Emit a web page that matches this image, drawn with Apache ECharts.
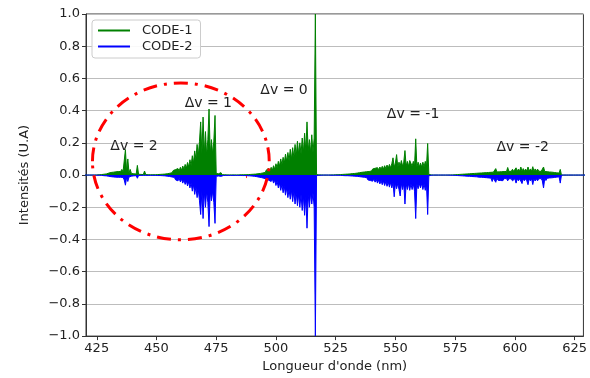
<!DOCTYPE html>
<html><head><meta charset="utf-8">
<script src="https://cdn.jsdelivr.net/npm/echarts@6/dist/echarts.min.js"></script>
<style>html,body{margin:0;padding:0;background:#fff}#c{width:590px;height:378px}</style>
</head><body><div id="c"></div>
<script>
// Spectrum sampled every 0.5 nm from 420.0 nm; each row = 5 nm (10 samples)
const gridStart = 420.0;
const gridStep = 0.5;

const code1 = [
/*420*/ 0,0,0,0,0,0,0,0,0,0.001,
/*425*/ 0.001,0.003,0.002,0.005,0.003,0.007,0.005,0.011,0.007,0.016,
/*430*/ 0.012,0.022,0.016,0.027,0.018,0.03,0.02,0.032,0.022,0.034,
/*435*/ 0.022,0.035,0.02,0.03,0.158,0.018,0.1,0.015,0.035,0.01,
/*440*/ 0.02,0.008,0.015,0.006,0.06,0.005,0.012,0.004,0.008,0.003,
/*445*/ 0.025,0.003,0.004,0.002,0.008,0.002,0.005,0.002,0.004,0.002,
/*450*/ 0.005,0.003,0.006,0.004,0.008,0.005,0.01,0.006,0.013,0.008,
/*455*/ 0.017,0.011,0.022,0.014,0.028,0.018,0.034,0.022,0.04,0.026,
/*460*/ 0.048,0.03,0.056,0.036,0.066,0.042,0.078,0.05,0.095,0.06,
/*465*/ 0.12,0.075,0.15,0.1,0.19,0.12,0.21,0.33,0.13,0.36,
/*470*/ 0.13,0.27,0.12,0.22,0.41,0.13,0.22,0.13,0.21,0.37,
/*475*/ 0.01,0.004,0.008,0.003,0.015,0.002,0.004,0.002,0.003,0.001,
/*480*/ 0.002,0.001,0.002,0.001,0.002,0.001,0.002,0.001,0.003,0.001,
/*485*/ 0.003,0.002,0.003,0.002,0.004,0.002,0.005,0.003,0.006,0.004,
/*490*/ 0.008,0.005,0.01,0.006,0.013,0.008,0.016,0.01,0.02,0.013,
/*495*/ 0.025,0.016,0.032,0.02,0.04,0.026,0.048,0.03,0.058,0.036,
/*500*/ 0.07,0.045,0.085,0.055,0.1,0.065,0.11,0.075,0.13,0.085,
/*505*/ 0.14,0.09,0.16,0.1,0.17,0.11,0.19,0.12,0.21,0.13,
/*510*/ 0.2,0.13,0.23,0.14,0.26,0.15,0.33,0.15,0.22,0.14,
/*515*/ 0.25,0.14,0.23,1.0,0.003,0.001,0.001,0,0.001,0,
/*520*/ 0,0.001,0,0.001,0,0.001,0.001,0.002,0.001,0.003,
/*525*/ 0.002,0.003,0.002,0.004,0.003,0.005,0.004,0.006,0.005,0.008,
/*530*/ 0.006,0.01,0.007,0.012,0.009,0.014,0.01,0.017,0.012,0.02,
/*535*/ 0.015,0.024,0.017,0.027,0.019,0.03,0.021,0.032,0.022,0.034,
/*540*/ 0.025,0.038,0.028,0.042,0.03,0.046,0.033,0.05,0.036,0.054,
/*545*/ 0.038,0.058,0.04,0.062,0.043,0.066,0.045,0.07,0.107,0.048,
/*550*/ 0.075,0.127,0.05,0.08,0.055,0.09,0.055,0.08,0.152,0.055,
/*555*/ 0.085,0.055,0.09,0.096,0.055,0.085,0.055,0.225,0.05,0.08,
/*560*/ 0.05,0.075,0.05,0.08,0.05,0.085,0.05,0.196,0.004,0.002,
/*565*/ 0.001,0.001,0,0.001,0,0.001,0,0.001,0,0.001,
/*570*/ 0,0.001,0,0.001,0,0.001,0.001,0.002,0.001,0.003,
/*575*/ 0.002,0.004,0.003,0.005,0.004,0.006,0.005,0.008,0.006,0.009,
/*580*/ 0.007,0.011,0.008,0.012,0.009,0.014,0.01,0.016,0.011,0.017,
/*585*/ 0.012,0.019,0.013,0.02,0.014,0.022,0.015,0.024,0.016,0.025,
/*590*/ 0.017,0.027,0.018,0.028,0.04,0.019,0.03,0.02,0.031,0.021,
/*595*/ 0.033,0.022,0.034,0.022,0.047,0.023,0.035,0.023,0.036,0.023,
/*600*/ 0.035,0.045,0.024,0.037,0.024,0.05,0.024,0.04,0.024,0.037,
/*605*/ 0.024,0.05,0.024,0.038,0.024,0.052,0.024,0.038,0.024,0.037,
/*610*/ 0.024,0.036,0.023,0.035,0.05,0.022,0.033,0.021,0.03,0.019,
/*615*/ 0.028,0.018,0.025,0.016,0.022,0.014,0.02,0.012,0.035,0.001,
/*620*/ 0,0,0,0,0,0,0,0,0,0,
/*625*/ 0,0,0,0,0,0,0,0,0,0
];

const code2 = [
/*420*/ 0,0,0,0,0,0,0,0,0,-0.001,
/*425*/ -0.001,-0.002,-0.001,-0.004,-0.002,-0.006,-0.004,-0.008,-0.005,-0.011,
/*430*/ -0.008,-0.015,-0.01,-0.018,-0.012,-0.02,-0.013,-0.022,-0.014,-0.022,
/*435*/ -0.014,-0.025,-0.015,-0.03,-0.063,-0.014,-0.04,-0.012,-0.018,-0.007,
/*440*/ -0.01,-0.005,-0.008,-0.004,-0.02,-0.003,-0.006,-0.002,-0.004,-0.002,
/*445*/ -0.008,-0.002,-0.003,-0.002,-0.005,-0.002,-0.003,-0.002,-0.003,-0.002,
/*450*/ -0.004,-0.003,-0.005,-0.003,-0.007,-0.004,-0.009,-0.005,-0.012,-0.007,
/*455*/ -0.015,-0.009,-0.019,-0.012,-0.024,-0.015,-0.03,-0.019,-0.036,-0.022,
/*460*/ -0.042,-0.026,-0.05,-0.03,-0.058,-0.036,-0.068,-0.042,-0.08,-0.05,
/*465*/ -0.1,-0.06,-0.12,-0.075,-0.14,-0.09,-0.16,-0.245,-0.1,-0.27,
/*470*/ -0.1,-0.2,-0.1,-0.17,-0.32,-0.1,-0.16,-0.1,-0.17,-0.3,
/*475*/ -0.008,-0.003,-0.006,-0.002,-0.008,-0.002,-0.003,-0.002,-0.002,-0.001,
/*480*/ -0.002,-0.001,-0.002,-0.001,-0.002,-0.001,-0.002,-0.001,-0.002,-0.001,
/*485*/ -0.002,-0.001,-0.003,-0.002,-0.003,-0.002,-0.004,-0.002,-0.005,-0.003,
/*490*/ -0.006,-0.004,-0.008,-0.005,-0.01,-0.006,-0.013,-0.008,-0.016,-0.01,
/*495*/ -0.02,-0.013,-0.026,-0.016,-0.032,-0.02,-0.04,-0.025,-0.05,-0.032,
/*500*/ -0.065,-0.04,-0.08,-0.05,-0.095,-0.06,-0.11,-0.07,-0.125,-0.08,
/*505*/ -0.14,-0.09,-0.15,-0.095,-0.165,-0.1,-0.18,-0.11,-0.19,-0.12,
/*510*/ -0.2,-0.12,-0.22,-0.13,-0.25,-0.13,-0.33,-0.12,-0.2,-0.11,
/*515*/ -0.18,-0.11,-0.2,-1.0,-0.003,-0.001,-0.001,0,-0.001,0,
/*520*/ 0,-0.001,0,-0.001,0,-0.001,-0.001,-0.001,-0.001,-0.002,
/*525*/ -0.001,-0.002,-0.001,-0.003,-0.002,-0.004,-0.003,-0.005,-0.004,-0.006,
/*530*/ -0.004,-0.007,-0.005,-0.009,-0.006,-0.011,-0.007,-0.013,-0.008,-0.015,
/*535*/ -0.01,-0.018,-0.012,-0.022,-0.014,-0.026,-0.016,-0.03,-0.019,-0.034,
/*540*/ -0.022,-0.038,-0.025,-0.044,-0.028,-0.05,-0.031,-0.055,-0.034,-0.06,
/*545*/ -0.037,-0.065,-0.04,-0.07,-0.043,-0.075,-0.045,-0.08,-0.048,-0.135,
/*550*/ -0.05,-0.085,-0.052,-0.09,-0.13,-0.052,-0.09,-0.052,-0.18,-0.052,
/*555*/ -0.09,-0.054,-0.095,-0.054,-0.09,-0.055,-0.1,-0.27,-0.055,-0.085,
/*560*/ -0.052,-0.08,-0.052,-0.09,-0.055,-0.095,-0.055,-0.245,-0.004,-0.002,
/*565*/ -0.001,-0.001,0,-0.001,0,-0.001,0,-0.001,0,-0.001,
/*570*/ 0,-0.001,0,-0.001,0,-0.001,-0.001,-0.002,-0.001,-0.003,
/*575*/ -0.002,-0.004,-0.003,-0.005,-0.004,-0.006,-0.005,-0.008,-0.006,-0.01,
/*580*/ -0.007,-0.012,-0.008,-0.014,-0.009,-0.016,-0.01,-0.018,-0.011,-0.02,
/*585*/ -0.013,-0.022,-0.014,-0.024,-0.015,-0.026,-0.016,-0.028,-0.018,-0.03,
/*590*/ -0.019,-0.04,-0.02,-0.032,-0.045,-0.02,-0.033,-0.021,-0.034,-0.022,
/*595*/ -0.035,-0.022,-0.034,-0.022,-0.036,-0.023,-0.035,-0.023,-0.036,-0.045,
/*600*/ -0.023,-0.05,-0.023,-0.036,-0.023,-0.035,-0.053,-0.023,-0.036,-0.023,
/*605*/ -0.036,-0.06,-0.023,-0.036,-0.023,-0.059,-0.023,-0.037,-0.023,-0.036,
/*610*/ -0.023,-0.035,-0.022,-0.036,-0.08,-0.021,-0.034,-0.02,-0.032,-0.018,
/*615*/ -0.03,-0.017,-0.028,-0.015,-0.025,-0.013,-0.022,-0.011,-0.05,-0.001,
/*620*/ 0,0,0,0,0,0,0,0,0,0,
/*625*/ 0,0,0,0,0,0,0,0,0,0
];

const seriesNames = ['CODE-1', 'CODE-2'];
const xTicks = [425, 450, 475, 500, 525, 550, 575, 600, 625];
const xMinorTicks = [437.5, 462.5, 487.5, 512.5, 537.5, 562.5, 587.5, 612.5];
const bandLabels = ['Δv = 2', 'Δv = 1', 'Δv = 0', 'Δv = -1', 'Δv = -2'];
const bandLabelX = [440.6, 471.7, 503.4, 557.4, 603.3];
const bandLabelY = [0.18, 0.444, 0.527, 0.376, 0.169];
const circleCenter = [460.2, 0.085];
const circleRadius = [37.0, 0.487];

const pairs = arr => arr.map((v, i) => [gridStart + i * gridStep, v]);
const FONT = 'DejaVu Sans';
const chart = echarts.init(document.getElementById('c'), null, {renderer: 'canvas'});

const yFmt = v => {
  if (Math.abs(v) < 1e-9) return '0.0';
  return (v < 0 ? '\u2212' : '') + Math.abs(v).toFixed(1);
};

chart.setOption({
  animation: false,
  backgroundColor: '#fff',
  grid: {left: 86, right: 2, top: 14, bottom: 41.3, show: true, borderColor: '#333', borderWidth: 1, backgroundColor: 'transparent'},
  legend: {
    data: seriesNames, left: 92, top: 20, orient: 'vertical',
    icon: 'rect', itemWidth: 32, itemHeight: 2, itemGap: 3,
    padding: [4, 8, 5, 6],
    backgroundColor: 'rgba(255,255,255,0.9)', borderColor: '#cccccc', borderWidth: 1, borderRadius: 3,
    textStyle: {fontFamily: FONT, fontSize: 13, color: '#222', padding: [0, 0, 0, 7]},
    selectedMode: false
  },
  xAxis: [{
    type: 'value', min: 420.5, max: 628.7, position: 'bottom',
    name: "Longueur d'onde (nm)", nameLocation: 'middle', nameGap: 22,
    nameTextStyle: {fontFamily: FONT, fontSize: 13, color: '#222'},
    axisLine: {show: true, onZero: false, lineStyle: {color: '#333', width: 1}},
    axisTick: {show: true, customValues: xTicks, length: 4, lineStyle: {color: '#333'}},
    axisLabel: {customValues: xTicks, fontFamily: FONT, fontSize: 13, color: '#222', margin: 6},
    splitLine: {show: false}
  }, {
    type: 'value', min: 420.5, max: 628.7, position: 'bottom',
    axisLine: {show: false},
    axisTick: {show: true, customValues: xMinorTicks, length: 3, lineStyle: {color: '#ff3030'}},
    axisLabel: {show: false},
    splitLine: {show: false}
  }],
  yAxis: {
    type: 'value', min: -1, max: 1, interval: 0.2,
    name: 'Intensités (U.A)', nameLocation: 'middle', nameGap: 55,
    nameTextStyle: {fontFamily: FONT, fontSize: 13, color: '#222'},
    axisLine: {show: true, lineStyle: {color: '#333'}},
    axisTick: {show: true, length: 4, lineStyle: {color: '#333'}},
    axisLabel: {formatter: yFmt, fontFamily: FONT, fontSize: 13, color: '#222', margin: 6},
    splitLine: {show: true, lineStyle: {color: '#bdbdbd', width: 1}}
  },
  series: [
    {name: seriesNames[0], type: 'line', data: pairs(code1), showSymbol: false, symbol: 'none',
     lineStyle: {width: 1, color: '#008000'}, itemStyle: {color: '#008000'},
     areaStyle: {color: '#008000', opacity: 1}, z: 3, clip: true},
    {name: seriesNames[1], type: 'line', data: pairs(code2), showSymbol: false, symbol: 'none',
     lineStyle: {width: 1, color: '#0000ff'}, itemStyle: {color: '#0000ff'},
     areaStyle: {color: '#0000ff', opacity: 1}, z: 4, clip: true}
  ]
});

const toPx = (x, y) => chart.convertToPixel({xAxisIndex: 0, yAxisIndex: 0}, [x, y]);
const c = toPx(circleCenter[0], circleCenter[1]);
const e = toPx(circleCenter[0] + circleRadius[0], circleCenter[1] + circleRadius[1]);
const graphics = [{
  type: 'ellipse', z: 100, silent: true,
  shape: {cx: c[0], cy: c[1], rx: Math.abs(e[0] - c[0]), ry: Math.abs(e[1] - c[1])},
  style: {fill: null, stroke: '#ff0000', lineWidth: 3, lineDash: [14, 7, 3, 7]}
}];
bandLabels.forEach((t, i) => {
  const p = toPx(bandLabelX[i], bandLabelY[i]);
  graphics.push({type: 'text', z: 101, silent: true, x: p[0], y: p[1],
    style: {text: t, fontFamily: FONT, fontSize: 14, fill: '#222', align: 'center', verticalAlign: 'middle'}});
});
chart.setOption({graphic: graphics});
</script>
</body></html>
